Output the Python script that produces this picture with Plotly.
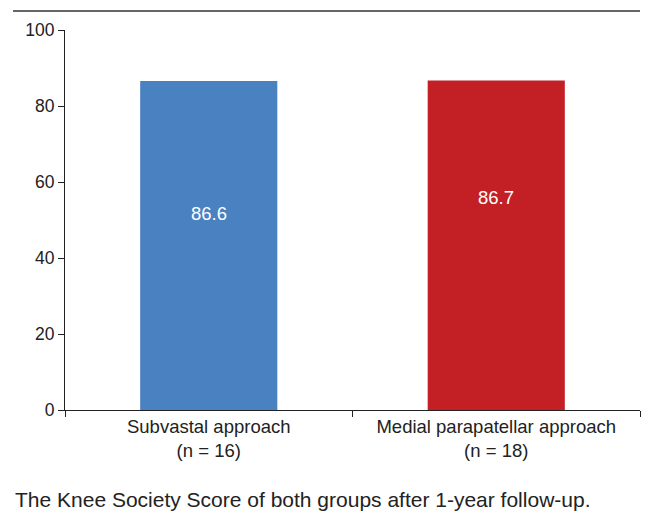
import plotly.graph_objects as go

categories = ["Subvastal approach<br>(n = 16)", "Medial parapatellar approach<br>(n = 18)"]
scores = [86.6, 86.7]
score_labels = ["86.6", "86.7"]
label_heights = [51.6, 56.0]
bar_colors = ["#4A81C0", "#C32026"]
y_ticks = [0, 20, 40, 60, 80, 100]
caption = "The Knee Society Score of both groups after 1-year follow-up."

FONT = "Liberation Sans, Arial, Helvetica, sans-serif"

fig = go.Figure()
fig.add_trace(go.Bar(
    x=categories, y=scores, marker=dict(color=bar_colors, line=dict(width=0)),
    hoverinfo="skip", showlegend=False,
))

for c, lab, h in zip(categories, score_labels, label_heights):
    fig.add_annotation(x=c, y=h, xref="x", yref="y", text=lab, showarrow=False,
                       font=dict(family=FONT, size=18.5, color="white"))

fig.add_annotation(x=-0.0904, y=-0.2356, xref="paper", yref="paper", xanchor="left",
                   yanchor="middle", text=caption, showarrow=False,
                   font=dict(family=FONT, size=21, color="#222222"))

fig.add_shape(type="line", xref="paper", yref="paper", x0=-0.0904, x1=1.0,
              y0=1.0497, y1=1.0497, line=dict(color="#333333", width=1.5))

fig.update_layout(
    width=645, height=515,
    margin=dict(l=57, r=13, t=20, b=113),
    paper_bgcolor="white", plot_bgcolor="white",
    bargap=0.523,
    font=dict(family=FONT, size=18, color="#222222"),
    xaxis=dict(showline=True, linecolor="#222222", linewidth=1, ticks="outside",
               tickson="boundaries", ticklen=6, tickcolor="#222222", showgrid=False,
               tickfont=dict(size=18.5, color="#222222")),
    yaxis=dict(range=[0, 100], tickvals=y_ticks, showline=True, linecolor="#222222",
               linewidth=1, ticks="outside", ticklen=6, tickcolor="#222222",
               showgrid=False, zeroline=False, tickfont=dict(size=17.5, color="#222222")),
)

fig.write_html("out.html")
